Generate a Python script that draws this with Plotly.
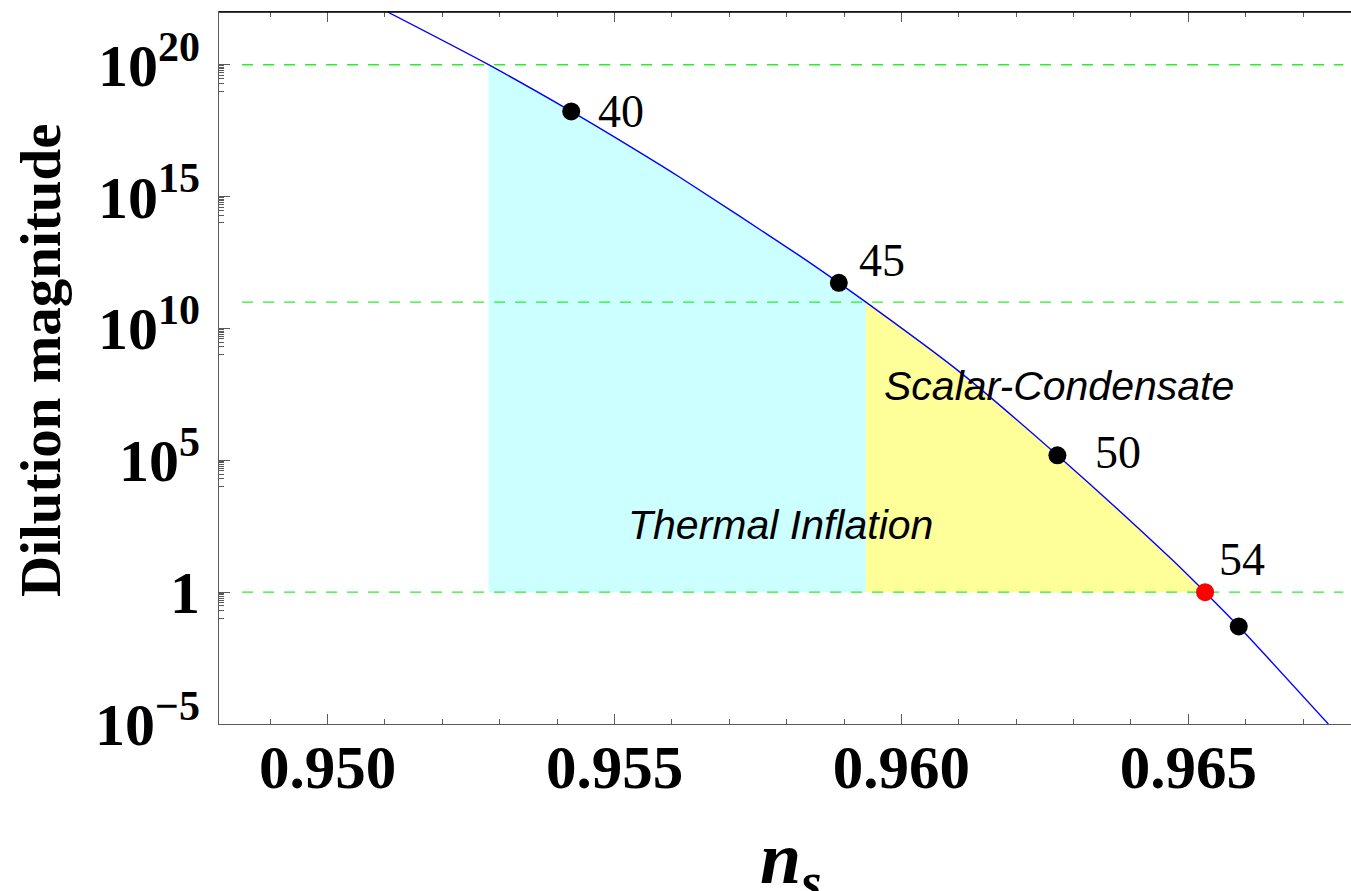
import numpy as np
import plotly.graph_objects as go

# ---------------- data ----------------
# blue curve: spectral index n_s vs dilution magnitude
ns_curve = [0.951045, 0.952805, 0.954246, 0.955361, 0.956145, 0.958235, 0.958909,
            0.959380, 0.960965, 0.962718, 0.964681, 0.965291, 0.965878, 0.967439]
dil_curve = [1.0e22, 1.0e20, 1.70e18, 6.03e16, 5.3e15, 5.52e12, 5.37e11,
             1.0e11, 2.75e8, 1.55e5, 20.0, 1.0, 0.050, 1.0e-5]

# e-fold markers
efolds = ["40", "45", "50", "54", ""]
ns_pts = [0.954246, 0.958909, 0.962718, 0.965291, 0.965878]
dil_pts = [1.70e18, 5.37e11, 1.55e5, 1.0, 0.050]
pt_colors = ["black", "black", "black", "red", "black"]

# dashed reference levels
levels = [1.0, 1.0e11, 1.0e20]
level_ns_span = [0.94851, 0.96770]

# shaded regions (index ranges on the curve, bottom level)
cyan_idx = (1, 7)     # Thermal Inflation: from 1e20 down to 1e11
yellow_idx = (7, 11)  # Scalar-Condensate: from 1e11 down to 1
region_floor = 1.0

x_tick_vals = [0.950, 0.955, 0.960, 0.965]
x_tick_text = ["0.950", "0.955", "0.960", "0.965"]
y_tick_vals = [1e-5, 1, 1e5, 1e10, 1e15, 1e20]
y_tick_text = ["10<sup>\u22125</sup>", "1", "10<sup>5</sup>", "10<sup>10</sup>",
               "10<sup>15</sup>", "10<sup>20</sup>"]

SERIF = "Liberation Serif, Times New Roman, serif"
SANS = "Liberation Sans, Arial, sans-serif"

# ---------------- figure ----------------
fig = go.Figure()

def add_region(i0, i1, color):
    xs = ns_curve[i0:i1 + 1]
    ys = dil_curve[i0:i1 + 1]
    fig.add_trace(go.Scatter(x=[xs[0], xs[-1]], y=[region_floor, region_floor],
                             mode="lines", line=dict(width=0), hoverinfo="skip",
                             showlegend=False))
    fig.add_trace(go.Scatter(x=xs, y=ys, mode="lines", fill="tonexty",
                             fillcolor=color, line=dict(width=0, shape="spline", smoothing=0.8),
                             hoverinfo="skip", showlegend=False))

add_region(*cyan_idx, "rgb(204,255,255)")
add_region(*yellow_idx, "rgb(255,255,153)")

for lv in levels:
    fig.add_trace(go.Scatter(x=level_ns_span, y=[lv, lv], mode="lines",
                             line=dict(color="rgb(40,240,40)", width=1.3, dash="11px,10px"),
                             hoverinfo="skip", showlegend=False))

fig.add_trace(go.Scatter(x=ns_curve, y=dil_curve, mode="lines",
                         line=dict(color="rgb(0,0,255)", width=1.4, shape="spline", smoothing=0.8),
                         showlegend=False))

fig.add_trace(go.Scatter(x=ns_pts, y=dil_pts, mode="markers",
                         marker=dict(color=pt_colors, size=18, line=dict(width=0)),
                         showlegend=False))

# e-fold labels
label_shift = {"40": (50, 0), "45": (43, 22), "50": (61, 3), "54": (37, 33)}
for lab, xv, yv in zip(efolds, ns_pts, dil_pts):
    if not lab:
        continue
    dx, dy = label_shift[lab]
    fig.add_annotation(x=xv, y=np.log10(yv), xref="x", yref="y", text=lab,
                       showarrow=False, xshift=dx, yshift=dy,
                       font=dict(family=SERIF, size=46, color="black"))

# region labels
fig.add_annotation(x=0.957901, y=2.53, xref="x", yref="y",
                   text="<i>Thermal Inflation</i>", showarrow=False,
                   font=dict(family=SANS, size=41, color="black"))
fig.add_annotation(x=0.962739, y=7.81, xref="x", yref="y",
                   text="<i>Scalar-Condensate</i>", showarrow=False,
                   font=dict(family=SANS, size=41, color="black"))

# axis titles
fig.add_annotation(x=(40 - 219) / 1132, y=(724 - 360) / 712, xref="paper", yref="paper",
                   text="<b>Dilution magnitude</b>", textangle=-90, showarrow=False,
                   xanchor="center", yanchor="middle",
                   font=dict(family=SERIF, size=57, color="black"))
fig.add_annotation(x=(790 - 219) / 1132, y=(724 - 863) / 712, xref="paper", yref="paper",
                   text="<b><i>n<sub>s</sub></i></b>", showarrow=False,
                   xanchor="center", yanchor="middle",
                   font=dict(family=SERIF, size=74, color="black"))

axis_col = "#5a5a5a"
minor_y = [m * 10.0 ** (e - 1) for e in [0, 5, 10, 15, 20] for m in range(1, 10)]

fig.update_layout(
    width=1351, height=891,
    margin=dict(l=219, r=0, t=12, b=167),
    plot_bgcolor="white", paper_bgcolor="white",
    showlegend=False,
    xaxis=dict(range=[0.948108, 0.967834], showgrid=False, zeroline=False,
               showline=True, linecolor=axis_col, linewidth=1.2, mirror="ticks",
               ticks="inside", ticklen=10, tickcolor=axis_col, tickwidth=1.2,
               tickvals=x_tick_vals, ticktext=x_tick_text,
               tickfont=dict(family=SERIF, size=61, color="black", weight="bold"),
               minor=dict(dtick=0.001, tick0=0.95, ticks="inside", ticklen=5,
                          tickcolor=axis_col, tickwidth=1.2, showgrid=False),
               ticklabelstandoff=-10),
    yaxis=dict(type="log", range=[-5, 22], showgrid=False, zeroline=False,
               showline=True, linecolor=axis_col, linewidth=1.2, mirror=False,
               ticks="inside", ticklen=11, tickcolor=axis_col, tickwidth=1.2,
               tickvals=y_tick_vals, ticktext=y_tick_text,
               tickfont=dict(family=SERIF, size=60, color="black", weight="bold"),
               minor=dict(tickvals=minor_y, ticks="inside", ticklen=5,
                          tickcolor=axis_col, tickwidth=1, showgrid=False),
               ticklabelstandoff=6),
)

fig.add_shape(type="line", xref="paper", yref="paper", x0=0, x1=1, y0=1, y1=1,
              line=dict(color="black", width=1.3))

fig.write_html("out.html")
